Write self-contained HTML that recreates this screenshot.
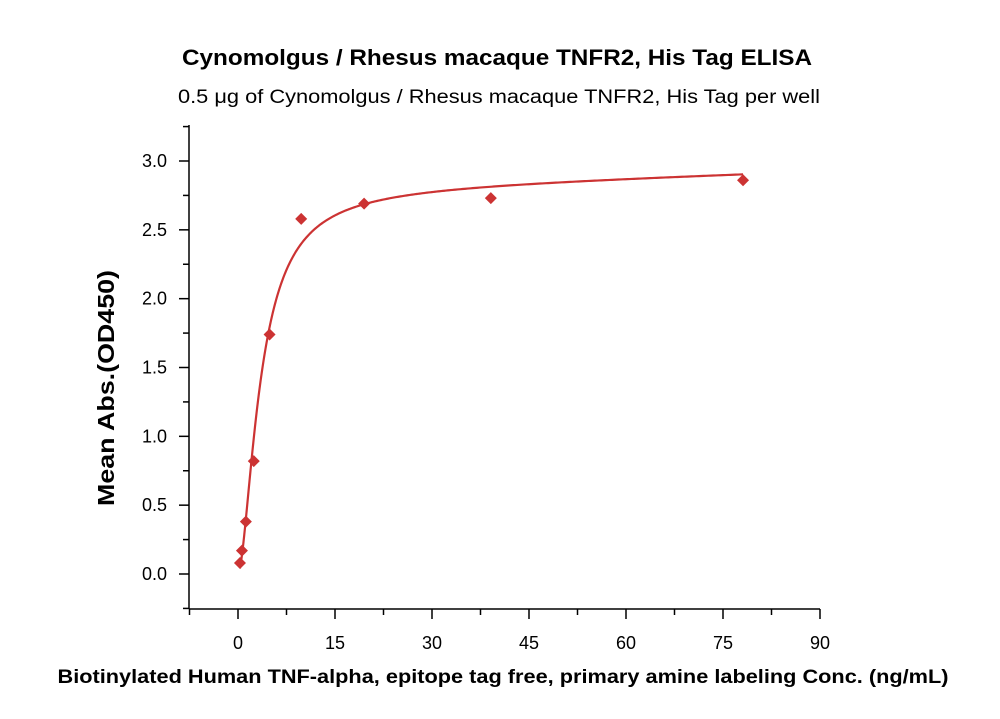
<!DOCTYPE html>
<html><head><meta charset="utf-8"><style>
body{margin:0;background:#fff;}
svg text{font-family:"Liberation Sans",sans-serif;}
</style></head><body>
<svg width="1000" height="714" xmlns="http://www.w3.org/2000/svg">
<text x="497" y="65" text-anchor="middle" font-size="22" font-weight="bold" textLength="630" lengthAdjust="spacingAndGlyphs">Cynomolgus / Rhesus macaque TNFR2, His Tag ELISA</text>
<text x="499" y="103" text-anchor="middle" font-size="19" textLength="642" lengthAdjust="spacingAndGlyphs">0.5 μg of Cynomolgus / Rhesus macaque TNFR2, His Tag per well</text>
<text transform="translate(114,388) rotate(-90)" text-anchor="middle" font-size="23" font-weight="bold" textLength="236" lengthAdjust="spacingAndGlyphs">Mean Abs.(OD450)</text>
<text x="503" y="683" text-anchor="middle" font-size="19" font-weight="bold" textLength="891" lengthAdjust="spacingAndGlyphs">Biotinylated Human TNF-alpha, epitope tag free, primary amine labeling Conc. (ng/mL)</text>
<g id="axes"></g><g id="curve"></g><g id="pts"></g>
<script>
const concs=[0.305,0.61,1.22,2.44,4.88,9.77,19.5,39.1,78.1];
const values=[0.08,0.17,0.38,0.82,1.74,2.58,2.69,2.73,2.86];
const xTicks=[0,15,30,45,60,75,90];
const yTicks=[0.0,0.5,1.0,1.5,2.0,2.5,3.0];
const fitParams=[2.8,3.5,1.7,0.0015];
const NS="http://www.w3.org/2000/svg";
const X=v=>238+v*(820-238)/90;
const Y=v=>574-v*(574-161)/3;
function mk(t,a,p){const e=document.createElementNS(NS,t);for(const k in a)e.setAttribute(k,a[k]);p.appendChild(e);return e;}
const ax=document.getElementById('axes');
const xl=mk('line',{x1:189,y1:609,x2:820,y2:609,stroke:'#000','stroke-width':1.5},ax);


const yl=mk('line',{x1:189,y1:609,x2:189,y2:125,stroke:'#000','stroke-width':1.5},ax);


for(let v=-7.5;v<=90;v+=7.5){const maj=v%15===0;mk('line',{x1:X(v),x2:X(v),y1:609,y2:609+(maj?10:6),stroke:'#000','stroke-width':1.5},ax);}
xTicks.forEach(v=>{const t=mk('text',{x:X(v),y:649,'text-anchor':'middle','font-size':18},ax);t.textContent=v;

});
for(let v=-0.25;v<=3.25;v+=0.25){const maj=Math.abs(v*2-Math.round(v*2))<1e-6;mk('line',{x1:189-(maj?10:6),x2:189,y1:Y(v),y2:Y(v),stroke:'#000','stroke-width':1.5},ax);}
yTicks.forEach(v=>{const t=mk('text',{x:167,y:Y(v)+6,'text-anchor':'end','font-size':18},ax);t.textContent=v.toFixed(1);

});
const [A,c,b,k]=fitParams;
const f=x=>A*Math.pow(x,b)/(Math.pow(c,b)+Math.pow(x,b))+k*x;
let d='';const x0=concs[0],x1=concs[concs.length-1];
for(let i=0;i<=400;i++){const x=x0+(x1-x0)*Math.pow(i/400,2);d+=(i?'L':'M')+X(x).toFixed(2)+','+Y(f(x)).toFixed(2);}
const cp=mk('path',{d:d,fill:'none',stroke:'#cc3333','stroke-width':2.2},document.getElementById('curve'));


const pg=document.getElementById('pts');
concs.forEach((x,i)=>{const px=X(x),py=Y(values[i]),s=6;
const p=mk('polygon',{points:`${px},${py-s} ${px+s},${py} ${px},${py+s} ${px-s},${py}`,fill:'#cc3333'},pg);

});
</script>
</svg>
</body></html>
